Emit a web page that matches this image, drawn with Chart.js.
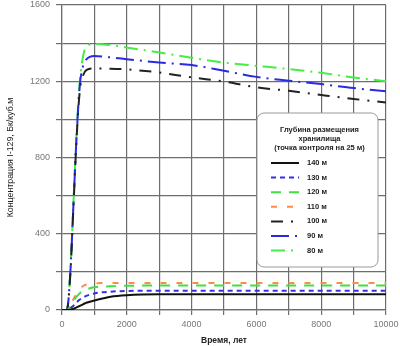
<!DOCTYPE html>
<html>
<head>
<meta charset="utf-8">
<script src="https://cdn.jsdelivr.net/npm/chart.js@4/dist/chart.umd.min.js"></script>
<style>
  html, body { margin: 0; padding: 0; background: #fff; overflow: hidden; }
  #wrap { width: 400px; height: 346px; }
</style>
</head>
<body>
<div id="wrap"><canvas id="chart"></canvas></div>
<script>
// время, лет
const years = [0, 150, 250, 350, 450, 550, 650, 750, 1000, 1500, 2000, 3000, 4000, 5000, 6000, 7000, 8000, 9000, 10000];

// концентрация I-129, Бк/куб.м
const depth140 = [0, 0, 2, 6, 14, 22, 30, 38, 50, 70, 78, 82, 82, 82, 82, 82, 82, 82, 82];
const depth130 = [0, 0, 8, 22, 40, 55, 66, 74, 87, 96, 100, 101, 101, 101, 101, 101, 101, 101, 101];
const depth120 = [0, 0, 15, 45, 70, 88, 100, 108, 119, 124, 127, 129, 129, 129, 129, 129, 129, 129, 129];
const depth110 = [0, 0, 20, 55, 85, 110, 126, 134, 140, 142, 142, 142, 142, 142, 142, 142, 142, 142, 142];
const depth100 = [0, 0, 170, 530, 900, 1150, 1230, 1258, 1267, 1266, 1262, 1246, 1220, 1199, 1168, 1150, 1128, 1107, 1089];
const depth90 = [0, 0, 175, 540, 910, 1180, 1280, 1315, 1333, 1325, 1316, 1298, 1285, 1255, 1223, 1203, 1185, 1164, 1147];
const depth80 = [0, 0, 180, 550, 930, 1200, 1330, 1380, 1396, 1390, 1377, 1351, 1323, 1298, 1281, 1264, 1244, 1220, 1200];

const seriesLabels = ['140 м', '130 м', '120 м', '110 м', '100 м', '90 м', '80 м'];
const legendTitle = ['Глубина размещения', 'хранилища', '(точка контроля на 25 м)'];

const toPoints = arr => arr.map((v, i) => ({ x: years[i], y: v }));

function makeSet(label, values, color, dash) {
    return {
        label: label,
        data: toPoints(values),
        borderColor: color,
        borderWidth: 2,
        borderDash: dash,
        pointRadius: 0,
        fill: false,
        cubicInterpolationMode: 'monotone'
    };
}

// легенда внутри области графика
const boxLegend = {
    id: 'boxLegend',
    afterDatasetsDraw(chart) {
        const ctx = chart.ctx;
        const area = chart.chartArea;
        const x = area.right - 129, y = area.top + 108, w = 121, h = 154, r = 7;
        ctx.save();
        ctx.beginPath();
        ctx.roundRect(x, y, w, h, r);
        ctx.fillStyle = '#fff';
        ctx.fill();
        ctx.strokeStyle = '#999';
        ctx.lineWidth = 1;
        ctx.stroke();

        ctx.fillStyle = '#222';
        ctx.font = 'bold 7.5px "Liberation Sans", Arial, sans-serif';
        ctx.textAlign = 'center';
        ctx.textBaseline = 'middle';
        legendTitle.forEach((t, i) => ctx.fillText(t, x + w / 2 + 2, y + 17 + i * 9));

        ctx.textAlign = 'left';
        chart.data.datasets.forEach((ds, i) => {
            const ly = y + 50 + i * 14.6;
            ctx.beginPath();
            ctx.setLineDash(ds.borderDash || []);
            ctx.strokeStyle = ds.borderColor;
            ctx.lineWidth = 2;
            ctx.moveTo(x + 14, ly);
            ctx.lineTo(x + 42, ly);
            ctx.stroke();
            ctx.setLineDash([]);
            ctx.fillStyle = '#222';
            ctx.fillText(ds.label, x + 50, ly);
        });
        ctx.restore();
    }
};

const ctx = document.getElementById('chart').getContext('2d');
new Chart(ctx, {
    type: 'line',
    data: {
        datasets: [
            makeSet(seriesLabels[0], depth140, '#111111', []),
            makeSet(seriesLabels[1], depth130, '#3030e8', [5, 4]),
            makeSet(seriesLabels[2], depth120, '#40e040', [10, 8]),
            makeSet(seriesLabels[3], depth110, '#ff8a4a', [6, 10]),
            makeSet(seriesLabels[4], depth100, '#222222', [12, 8, 2, 8]),
            makeSet(seriesLabels[5], depth90, '#2a2ae0', [18, 6, 2, 6]),
            makeSet(seriesLabels[6], depth80, '#44ee44', [14, 6, 2, 6])
        ]
    },
    options: {
        responsive: true,
        maintainAspectRatio: false,
        animation: false,
        layout: { padding: { top: 5, right: 14, bottom: 0, left: 0 } },
        plugins: {
            legend: { display: false },
            tooltip: { enabled: false }
        },
        scales: {
            x: {
                type: 'linear',
                min: 0,
                max: 10000,
                afterFit: s => { s.height = 36; s.paddingRight = 0; s.paddingLeft = 0; },
                grid: { color: '#6e6e6e', lineWidth: 1.2, tickLength: 5 },
                border: { color: '#6e6e6e', width: 1.2 },
                ticks: {
                    stepSize: 1000,
                    maxRotation: 0,
                    autoSkip: false,
                    color: '#777',
                    font: { family: '"Liberation Sans", Arial, sans-serif', size: 9 },
                    padding: 4,
                    callback: v => (v % 2000 === 0 ? String(v) : '')
                },
                title: {
                    display: true,
                    text: 'Время, лет',
                    color: '#222',
                    font: { family: '"Liberation Sans", Arial, sans-serif', size: 8.5, weight: 'bold' },
                    padding: { top: 0, bottom: 0 }
                }
            },
            y: {
                min: 0,
                max: 1600,
                afterFit: s => { s.width = 62; s.paddingTop = 0; s.paddingBottom = 0; },
                grid: { color: '#6e6e6e', lineWidth: 1.2, tickLength: 6 },
                border: { color: '#6e6e6e', width: 1.2 },
                ticks: {
                    stepSize: 200,
                    autoSkip: false,
                    color: '#777',
                    font: { family: '"Liberation Sans", Arial, sans-serif', size: 9 },
                    padding: 6,
                    callback: v => (v % 400 === 0 ? String(v) : '')
                },
                title: {
                    display: true,
                    text: 'Концентрация I-129, Бк/куб.м',
                    color: '#222',
                    font: { family: '"Liberation Sans", Arial, sans-serif', size: 8.8 },
                    padding: { top: 5, bottom: 2 }
                }
            }
        }
    },
    plugins: [boxLegend]
});
</script>
</body>
</html>
